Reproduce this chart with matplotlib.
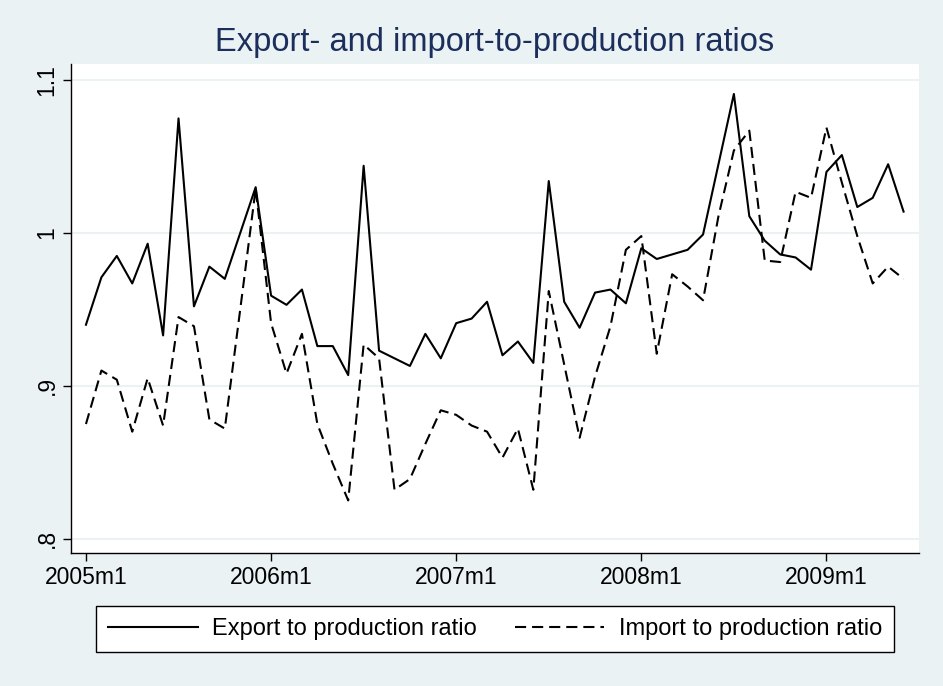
import matplotlib
matplotlib.use("Agg")
import matplotlib.pyplot as plt

plt.rcParams['font.family'] = ['Liberation Sans', 'DejaVu Sans']
plt.rcParams['lines.scale_dashes'] = False

# months since 2005m1
months = list(range(54))

export_ratio = [0.940, 0.971, 0.985, 0.967, 0.993, 0.933, 1.075, 0.952, 0.978, 0.970,
                1.000, 1.030, 0.959, 0.953, 0.963, 0.926, 0.926, 0.907, 1.044, 0.923,
                0.918, 0.913, 0.934, 0.918, 0.941, 0.944, 0.955, 0.920, 0.929, 0.915,
                1.034, 0.955, 0.938, 0.961, 0.963, 0.954, 0.990, 0.983, 0.986, 0.989,
                0.999, 1.045, 1.091, 1.011, 0.995, 0.986, 0.984, 0.976, 1.040, 1.051,
                1.017, 1.023, 1.045, 1.014]

import_ratio = [0.875, 0.910, 0.904, 0.870, 0.905, 0.874, 0.945, 0.939, 0.878, 0.872,
                0.950, 1.029, 0.941, 0.908, 0.934, 0.875, 0.849, 0.825, 0.927, 0.918,
                0.832, 0.839, 0.862, 0.884, 0.881, 0.874, 0.870, 0.853, 0.872, 0.832,
                0.962, 0.914, 0.866, 0.906, 0.939, 0.989, 0.998, 0.921, 0.973, 0.965,
                0.956, 1.011, 1.054, 1.067, 0.982, 0.981, 1.027, 1.023, 1.069, 1.033,
                0.998, 0.967, 0.978, 0.970]

xtick_pos = [0, 12, 24, 36, 48]
xtick_labels = ['2005m1', '2006m1', '2007m1', '2008m1', '2009m1']
ytick_pos = [0.8, 0.9, 1.0, 1.1]
ytick_labels = ['.8', '.9', '1', '1.1']

bg = '#EAF2F3'
fig = plt.figure(figsize=(9.43, 6.86), dpi=100, facecolor=bg)
ax = fig.add_axes([71 / 943, 1 - 553 / 686, (919 - 71) / 943, (553 - 64) / 686])
ax.set_facecolor('white')

ax.plot(months, export_ratio, color='black', lw=1.5, label='Export to production ratio')
ax.plot(months, import_ratio, color='black', lw=1.5, dashes=(8, 4.3),
        label='Import to production ratio')

ax.set_xlim(-0.97, 54.0)
ax.set_ylim(0.7906, 1.1106)
ax.set_xticks(xtick_pos)
ax.set_xticklabels(xtick_labels)
ax.set_yticks(ytick_pos)
ax.set_yticklabels(ytick_labels, rotation=90, va='center')
ax.tick_params(axis='both', labelsize=16.5, length=6, width=1, colors='black')
ax.tick_params(axis='y', pad=3)
ax.yaxis.grid(True, color=bg, lw=1.5)
ax.set_axisbelow(True)
for side in ['top', 'right']:
    ax.spines[side].set_visible(False)
ax.spines['left'].set_linewidth(1)
ax.spines['bottom'].set_linewidth(1)

fig.text(495 / 943, 1 - 43 / 686, 'Export- and import-to-production ratios',
         ha='center', va='center', fontsize=23.5, color='#1C2F5C')

leg = fig.legend(loc='center', bbox_to_anchor=(495 / 943, 1 - 629 / 686), ncol=2,
                 fontsize=17, frameon=True, fancybox=False, edgecolor='black',
                 framealpha=1, facecolor='white',
                 handlelength=3.8, handletextpad=0.6, columnspacing=1.6,
                 borderpad=0.5, borderaxespad=0)
leg.get_frame().set_linewidth(1)

fig.savefig('out.png', dpi=100, facecolor=bg)
